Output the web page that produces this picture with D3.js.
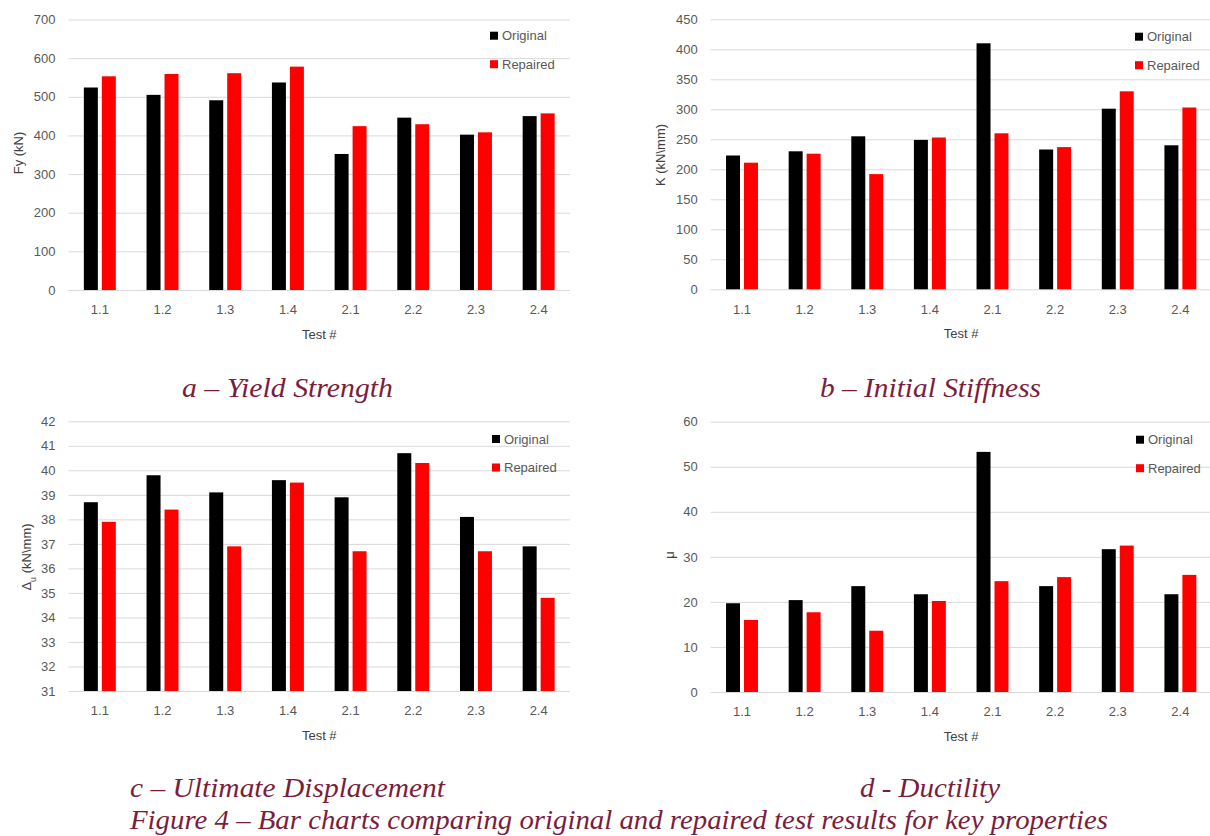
<!DOCTYPE html>
<html>
<head>
    <title>Figure 4 - Original vs Repaired</title>
    <script src="https://d3js.org/d3.v7.min.js"></script>
    <style>
        body {
            margin: 0;
            background: #fff;
        }

        svg {
            display: block;
        }

        .tick text {
            font-family: "Liberation Sans", Arial, sans-serif;
            font-size: 13px;
            fill: #595959;
        }

        .grid .tick line {
            stroke: #d9d9d9;
            stroke-width: 1;
        }

        .axis path {
            display: none;
        }

        .axis-title {
            font-family: "Liberation Sans", Arial, sans-serif;
            font-size: 13px;
            fill: #404040;
        }

        .legend text {
            font-family: "Liberation Sans", Arial, sans-serif;
            font-size: 13px;
            fill: #595959;
        }

        .caption {
            font-family: "Liberation Serif", "Times New Roman", serif;
            font-style: italic;
            font-size: 27px;
            fill: #7a1e3d;
        }
    </style>
</head>
<body>
    <svg id="fig" width="1210" height="836"></svg>

    <script>
        // Categories and series
        const tests = ["1.1", "1.2", "1.3", "1.4", "2.1", "2.2", "2.3", "2.4"];
        const seriesNames = ["Original", "Repaired"];
        const seriesColors = ["#000000", "#ff0000"];

        // a - Yield strength (kN)
        const yieldOriginal = [524, 505, 491, 537, 352, 446, 402, 450];
        const yieldRepaired = [553, 559, 561, 578, 424, 429, 408, 457];
        const yieldTicks = [0, 100, 200, 300, 400, 500, 600, 700];

        // b - Initial stiffness (kN/mm)
        const stiffOriginal = [223, 230, 255, 249, 410, 233, 301, 240];
        const stiffRepaired = [211, 226, 192, 253, 260, 237, 330, 303];
        const stiffTicks = [0, 50, 100, 150, 200, 250, 300, 350, 400, 450];

        // c - Ultimate displacement
        const dispOriginal = [38.7, 39.8, 39.1, 39.6, 38.9, 40.7, 38.1, 36.9];
        const dispRepaired = [37.9, 38.4, 36.9, 39.5, 36.7, 40.3, 36.7, 34.8];
        const dispTicks = [31, 32, 33, 34, 35, 36, 37, 38, 39, 40, 41, 42];

        // d - Ductility
        const ductOriginal = [19.7, 20.4, 23.5, 21.7, 53.3, 23.5, 31.7, 21.7];
        const ductRepaired = [16.0, 17.7, 13.6, 20.2, 24.6, 25.5, 32.5, 26.0];
        const ductTicks = [0, 10, 20, 30, 40, 50, 60];

        const svg = d3.select("#fig");

        function drawPanel(p) {
            const g = svg.append("g");

            const x0 = d3.scaleBand()
                .domain(tests)
                .range([p.left, p.right])
                .paddingInner(0.49)
                .paddingOuter(0.245);

            const x1 = d3.scaleBand()
                .domain(seriesNames)
                .range([0, x0.bandwidth()])
                .paddingInner(0.222);

            const y = d3.scaleLinear()
                .domain([p.ticks[0], p.ticks[p.ticks.length - 1]])
                .range([p.bottom, p.top]);

            // gridlines + y labels
            g.append("g")
                .attr("class", "axis grid")
                .attr("transform", `translate(${p.left},0)`)
                .call(d3.axisLeft(y)
                    .tickValues(p.ticks)
                    .tickFormat(d3.format("d"))
                    .tickSize(-(p.gridRight - p.left))
                    .tickPadding(13));

            // bars
            const rows = tests.map((t, i) => ({
                test: t,
                values: [p.original[i], p.repaired[i]]
            }));

            g.selectAll(".group")
                .data(rows)
                .join("g")
                .attr("transform", d => `translate(${x0(d.test)},0)`)
                .selectAll("rect")
                .data(d => d.values.map((v, k) => ({ name: seriesNames[k], value: v, k: k })))
                .join("rect")
                .attr("x", d => x1(d.name))
                .attr("width", x1.bandwidth())
                .attr("y", d => y(d.value))
                .attr("height", d => p.bottom - y(d.value))
                .attr("fill", d => seriesColors[d.k]);

            // x labels
            g.append("g")
                .attr("class", "axis")
                .attr("transform", `translate(0,${p.bottom})`)
                .call(d3.axisBottom(x0).tickSize(0).tickPadding(15));

            // x title
            g.append("text")
                .attr("class", "axis-title")
                .attr("x", (p.left + p.right) / 2)
                .attr("y", p.bottom + 49)
                .attr("text-anchor", "middle")
                .text("Test #");

            // y title
            const yt = g.append("text")
                .attr("class", "axis-title")
                .attr("transform", `translate(${p.yTitleX},${p.yTitleY}) rotate(-90)`)
                .attr("text-anchor", "middle")
                .attr("dy", "0.35em");
            p.yTitle.forEach(part => {
                const ts = yt.append("tspan").text(part.t);
                if (part.sub) ts.attr("baseline-shift", "sub").attr("font-size", "9px");
            });

            // legend
            const lg = g.append("g").attr("class", "legend");
            seriesNames.forEach((name, k) => {
                const cy = p.legendY + k * 28.5;
                lg.append("rect")
                    .attr("x", p.legendX)
                    .attr("y", cy - 4)
                    .attr("width", 8)
                    .attr("height", 8)
                    .attr("fill", seriesColors[k]);
                lg.append("text")
                    .attr("x", p.legendX + 12)
                    .attr("y", cy)
                    .attr("dy", "0.35em")
                    .text(name);
            });
        }

        drawPanel({
            original: yieldOriginal, repaired: yieldRepaired, ticks: yieldTicks,
            left: 68.5, right: 570, gridRight: 570, top: 19.5, bottom: 290,
            yTitle: [{ t: "Fy (kN)" }], yTitleX: 18, yTitleY: 153,
            legendX: 490, legendY: 35.7
        });

        drawPanel({
            original: stiffOriginal, repaired: stiffRepaired, ticks: stiffTicks,
            left: 710.7, right: 1211.7, gridRight: 1211.7, top: 19.3, bottom: 289.3,
            yTitle: [{ t: "K (kN\\mm)" }], yTitleX: 660, yTitleY: 155,
            legendX: 1135, legendY: 36.7
        });

        drawPanel({
            original: dispOriginal, repaired: dispRepaired, ticks: dispTicks,
            left: 68.5, right: 570, gridRight: 570, top: 421.3, bottom: 691,
            yTitle: [{ t: "Δ" }, { t: "u", sub: true }, { t: " (kN\\mm)" }], yTitleX: 26, yTitleY: 557,
            legendX: 492, legendY: 439
        });

        drawPanel({
            original: ductOriginal, repaired: ductRepaired, ticks: ductTicks,
            left: 710.7, right: 1211.7, gridRight: 1211.7, top: 421.7, bottom: 692,
            yTitle: [{ t: "μ" }], yTitleX: 669, yTitleY: 555,
            legendX: 1136, legendY: 439.7
        });

        // captions
        const captions = [
            { text: "a – Yield Strength", x: 182, y: 397, w: 211 },
            { text: "b – Initial Stiffness", x: 820, y: 397, w: 221 },
            { text: "c – Ultimate Displacement", x: 130, y: 797, w: 315 },
            { text: "d - Ductility", x: 860, y: 797, w: 140 },
            { text: "Figure 4 – Bar charts comparing original and repaired test results for key properties", x: 130, y: 829, w: 978 }
        ];

        svg.selectAll(".caption")
            .data(captions)
            .join("text")
            .attr("class", "caption")
            .attr("x", d => d.x)
            .attr("y", d => d.y)
            .attr("textLength", d => d.w)
            .attr("lengthAdjust", "spacingAndGlyphs")
            .text(d => d.text);
    </script>
</body>
</html>
